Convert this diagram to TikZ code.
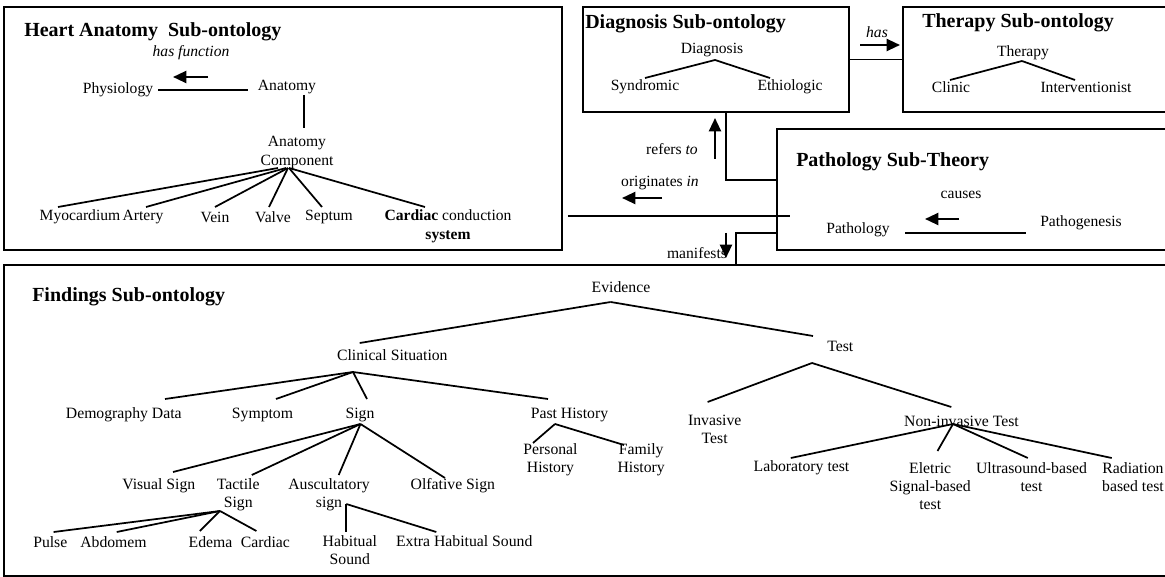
\documentclass[tikz,border=0pt]{standalone}
\usepackage{fontspec}
\setmainfont{Liberation Serif}
\usepackage{tikz}
\usetikzlibrary{
    arrows.meta,
    positioning,
    calc
}
\tikzset{
    % Sub-ontology frame
    framebox/.style={
        rectangle,
        draw=black,
        line width=1.4pt,
        inner sep=0pt
    },
    % Frame heading
    frametitle/.style={
        anchor=west,
        inner sep=0pt,
        font=\fontsize{15}{18}\selectfont\bfseries
    },
    % Concept in the upper frames
    concept/.style={
        align=center,
        inner sep=1pt,
        font=\fontsize{11.7}{14}\selectfont
    },
    % Concept in the findings frame
    finding/.style={
        align=center,
        inner sep=1pt,
        font=\fontsize{11.8}{13.5}\selectfont
    },
    % Relation name
    relitalic/.style={
        concept,
        font=\fontsize{11.7}{14}\selectfont\itshape
    },
    % Relation direction arrow
    relarrow/.style={
        -{Triangle[length=10pt,width=9pt]},
        line width=1.6pt
    },
    % Tree edge
    treeedge/.style={
        line width=1.3pt
    }
}

\begin{document}
\begin{tikzpicture}[x=0.75pt, y=-0.75pt]

    \useasboundingbox (0,0) rectangle (1165,577);
    \clip (0,0) rectangle (1165,577);

    % Heart anatomy frame
    \node[framebox, minimum width=418.5pt, minimum height=182.25pt] (heart) at (283,128.5) {};
    \node[frametitle] (hearttitle) at (24,32) {Heart Anatomy~ Sub-ontology};

    \node[relitalic] (hasfn) at (191,53) {has function};
    \draw[relarrow] ($(hasfn)+(17,24)$) -- ++(-35,0);

    \node[concept] (physio) at (118,90) {Physiology};
    \node[concept] (anat) at (287,87) {Anatomy};
    \node[concept] (comp) at (297,152.5) {Anatomy\\Component};

    \node[concept] (myo) at (80,217) {Myocardium};
    \node[concept] (artery) at (143,217) {Artery};
    \node[concept] (vein) at (215,217) {Vein};
    \node[concept] (valve) at (273,217) {Valve};
    \node[concept] (septum) at (329,217) {Septum};
    \node[concept] (conduct) at (448,226) {\textbf{Cardiac} conduction\\\textbf{system}};

    \draw[treeedge] ($(physio)+(40,0)$) -- ($(anat)+(-39,3)$);
    \draw[treeedge] ($(anat)+(17,8)$) -- ($(comp)+(7,-24.5)$);
    \draw[treeedge] ($(comp)+(-19,15.5)$) -- ($(myo)+(-22,-10)$);
    \draw[treeedge] ($(comp)+(-11,15.5)$) -- ($(artery)+(3,-10)$);
    \draw[treeedge] ($(comp)+(-9,15.5)$) -- ($(vein)+(0,-10)$);
    \draw[treeedge] ($(comp)+(-9,15.5)$) -- ($(valve)+(-4,-10)$);
    \draw[treeedge] ($(comp)+(-8,15.5)$) -- ($(septum)+(-7,-10)$);
    \draw[treeedge] ($(comp)+(-8,15.5)$) -- ($(conduct)+(-23,-19)$);

    % Diagnosis frame
    \node[framebox, minimum width=199.5pt, minimum height=78.75pt] (diagbox) at (716,59.5) {};
    \node[frametitle] (diagtitle) at (585,24) {Diagnosis Sub-ontology};

    \node[concept] (diag) at (712,50) {Diagnosis};
    \node[concept] (synd) at (645,87) {Syndromic};
    \node[concept] (ethio) at (790,87) {Ethiologic};

    \draw[treeedge] ($(diag)+(3,10)$) -- ($(synd)+(0,-9)$);
    \draw[treeedge] ($(diag)+(3,10)$) -- ($(ethio)+(-20,-9)$);

    % Therapy frame
    \node[framebox, minimum width=211.5pt, minimum height=78.75pt] (therbox) at (1044,59.5) {};
    \node[frametitle] (thertitle) at (922,23) {Therapy Sub-ontology};

    \node[concept] (ther) at (1023,53) {Therapy};
    \node[concept] (clinic) at (951,87) {Clinic};
    \node[concept] (interv) at (1086,87) {Interventionist};

    \draw[treeedge] ($(ther)+(-1,8)$) -- ($(clinic)+(-1,-7)$);
    \draw[treeedge] ($(ther)+(-1,8)$) -- ($(interv)+(-11,-7)$);

    % has
    \draw[treeedge] (diagbox.east) -- (therbox.west);
    \node[relitalic] (has) at (877,32) {has};
    \draw[relarrow] ($(has)+(-17,13)$) -- ++(40,0);

    % Pathology frame
    \node[framebox, minimum width=306pt, minimum height=90.75pt] (pathbox) at (981,189.5) {};
    \node[frametitle] (pathtitle) at (796,162) {Pathology Sub-Theory};

    \node[concept] (causes) at (961,195) {causes};
    \draw[relarrow] ($(causes)+(-2,24)$) -- ++(-34,0);

    \node[concept] (patho) at (858,230) {Pathology};
    \node[concept] (pathogen) at (1081,223) {Pathogenesis};
    \draw[treeedge] ($(patho)+(47,3)$) -- ($(pathogen)+(-55,10)$);

    % Findings frame
    \node[framebox, minimum width=885.75pt, minimum height=233.25pt] (findbox) at (594.5,420.5) {};
    \node[frametitle] (findtitle) at (32,297) {Findings Sub-ontology};

    % Links between frames
    \draw[treeedge] ($(diagbox.south)+(10,0)$) |- ($(pathbox.west)+(0,-9.5)$);
    \node[concept] (refers) at (672,149) {refers \textit{to}};
    \draw[relarrow] ($(refers)+(43,10)$) -- ++(0,-41);

    \draw[treeedge] ($(heart.east)+(5,87.5)$) -- ($(pathbox.west)+(14,26.5)$);
    \node[concept] (origin) at (660,183) {originates \textit{in}};
    \draw[relarrow] ($(origin)+(2,15)$) -- ++(-40,0);

    \draw[treeedge] ($(pathbox.west)+(0,43.5)$) -| ($(findbox.north)+(141.5,2)$);
    \node[concept] (manif) at (697,253) {manifests};
    \draw[relarrow] ($(manif)+(29,-20)$) -- ++(0,25);

    % Evidence
    \node[finding] (evid) at (621,287) {Evidence};
    \node[finding] (clin) at (392.3,355) {Clinical Situation};
    \node[finding] (test) at (840.3,346) {Test};

    \draw[treeedge] ($(evid)+(-10.4,15)$) -- ($(clin)+(-32.6,-12)$);
    \draw[treeedge] ($(evid)+(-10.4,15)$) -- ($(test)+(-27.3,-10)$);

    % Clinical situation
    \node[finding] (demo) at (123.8,415) {Demography Data};
    \node[finding] (sympt) at (262.5,415) {Symptom};
    \node[finding] (sign) at (360,415) {Sign};
    \node[finding] (past) at (569.5,415) {Past History};

    \draw[treeedge] ($(clin)+(-39.3,17)$) -- ($(demo)+(41.2,-16)$);
    \draw[treeedge] ($(clin)+(-39.3,17)$) -- ($(sympt)+(13.5,-16)$);
    \draw[treeedge] ($(clin)+(-39.3,17)$) -- ($(sign)+(7,-16)$);
    \draw[treeedge] ($(clin)+(-39.3,17)$) -- ($(past)+(-21.5,-16)$);

    % Sign
    \node[finding] (visual) at (158.8,486) {Visual Sign};
    \node[finding] (tactile) at (238.2,495) {Tactile\\Sign};
    \node[finding] (auscult) at (329,495) {Auscultatory\\sign};
    \node[finding] (olf) at (452.9,486) {Olfative Sign};

    \draw[treeedge] ($(sign)+(0.5,9)$) -- ($(visual)+(14.2,-14)$);
    \draw[treeedge] ($(sign)+(0.5,9)$) -- ($(tactile)+(13.6,-20)$);
    \draw[treeedge] ($(sign)+(0.5,9)$) -- ($(auscult)+(9.7,-20)$);
    \draw[treeedge] ($(sign)+(0.5,9)$) -- ($(olf)+(-7.9,-8)$);

    % Tactile sign
    \node[finding] (pulse) at (50.3,542) {Pulse};
    \node[finding] (abdo) at (113.5,542) {Abdomem};
    \node[finding] (edema) at (210.5,542) {Edema};
    \node[finding] (cardiac) at (265.4,542) {Cardiac};

    \draw[treeedge] ($(tactile)+(-18.2,16)$) -- ($(pulse)+(3.3,-10)$);
    \draw[treeedge] ($(tactile)+(-18.2,16)$) -- ($(abdo)+(3.2,-10)$);
    \draw[treeedge] ($(tactile)+(-18.2,16)$) -- ($(edema)+(-10.7,-11)$);
    \draw[treeedge] ($(tactile)+(-18.2,16)$) -- ($(cardiac)+(-9,-11)$);

    % Auscultatory sign
    \node[finding] (habit) at (349.8,550.5) {Habitual\\Sound};
    \node[finding] (extra) at (464.2,541) {Extra Habitual Sound};

    \draw[treeedge] ($(auscult)+(17.3,9)$) -- ($(habit)+(-3.5,-18.5)$);
    \draw[treeedge] ($(auscult)+(17.3,9)$) -- ($(extra)+(-27.9,-9)$);

    % Past history
    \node[finding] (personal) at (550.5,460) {Personal\\History};
    \node[finding] (family) at (641.2,460) {Family\\History};

    \draw[treeedge] ($(past)+(-14.5,9)$) -- ($(personal)+(-17.5,-17)$);
    \draw[treeedge] ($(past)+(-14.5,9)$) -- ($(family)+(-17.2,-15)$);

    % Test
    \node[finding] (invasive) at (714.7,429) {Invasive\\Test};
    \node[finding] (noninv) at (961.5,421) {Non-invasive Test};

    \draw[treeedge] ($(test)+(-28.3,17)$) -- ($(invasive)+(-7.1,-27)$);
    \draw[treeedge] ($(test)+(-28.3,17)$) -- ($(noninv)+(-10.2,-14)$);

    % Non-invasive test
    \node[finding] (lab) at (801.5,468) {Laboratory test};
    \node[finding] (eletric) at (930.2,486.5) {Eletric\\Signal-based\\test};
    \node[finding] (ultra) at (1031.5,477) {Ultrasound-based\\test};
    \node[finding] (radi) at (1133,477.5) {Radiation\\based test};

    \draw[treeedge] ($(noninv)+(-8.5,3)$) -- ($(lab)+(-10.7,-10)$);
    \draw[treeedge] ($(noninv)+(-8.5,3)$) -- ($(eletric)+(7.3,-35.5)$);
    \draw[treeedge] ($(noninv)+(-8.5,3)$) -- ($(ultra)+(-3.7,-19)$);
    \draw[treeedge] ($(noninv)+(-8.5,3)$) -- ($(radi)+(-21.3,-19.5)$);

\end{tikzpicture}
\end{document}
